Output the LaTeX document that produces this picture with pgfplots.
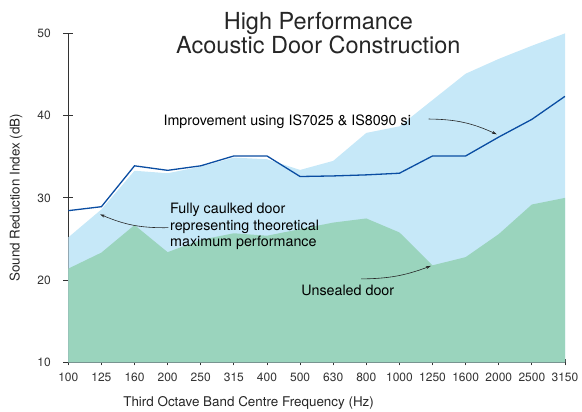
\documentclass[border=0pt]{standalone}
\usepackage{pgfplots}
\pgfplotsset{compat=1.18}
\usepackage{fontspec}
\setmainfont{TeX Gyre Heros}
\usetikzlibrary{arrows.meta}
\definecolor{caulk}{HTML}{C6E8F8}
\definecolor{unseal}{HTML}{9AD4BD}
\definecolor{impr}{HTML}{0A4DA2}
\definecolor{axc}{HTML}{333333}
\begin{document}
\begin{tikzpicture}
\begin{axis}[
  name=ax,
  at={(0,0)}, anchor=south west,
  scale only axis,
  width=496.7pt, height=329pt,
  xmin=0, xmax=15, ymin=10, ymax=50,
  axis lines*=left,
  axis line style={axc, line width=0.8pt},
  xtick={0,...,15},
  xticklabels={100,125,160,200,250,315,400,500,630,800,1000,1250,1600,2000,2500,3150},
  ytick={10,20,30,40,50},
  tick align=center,
  major tick length=10pt,
  xtick style={/pgfplots/major tick length=6pt},
  tick style={axc, line width=0.8pt},
  /pgf/number format/assume math mode=true,
  ticklabel style={font=\fontsize{12}{14}\selectfont, text=axc},
  yticklabel style={xshift=-9pt},
  xticklabel style={yshift=-2pt},
  xlabel={Third Octave Band Centre Frequency (Hz)},
  ylabel={Sound Reduction Index (dB)},
  label style={font=\fontsize{13.4}{16}\selectfont, text=black!85},
  xlabel style={at={(axis description cs:0.363,-0.123)}, anchor=center},
  ylabel style={at={(axis description cs:-0.105,0.5)}, anchor=center, rotate=0},
  clip mode=individual,
]
\addplot[fill=caulk, draw=none] coordinates {
(0,25.2) (1,28.6) (2,33.3) (3,33.0) (4,33.8) (5,34.9) (6,34.7) (7,33.4)
(8,34.5) (9,37.9) (10,38.7) (11,41.9) (12,45.1) (13,46.9) (14,48.5) (15,50.0)
} \closedcycle;
\addplot[fill=unseal, draw=none] coordinates {
(0,21.4) (1,23.35) (2,26.7) (3,23.4) (4,24.9) (5,25.7) (6,25.4) (7,26.2)
(8,27.0) (9,27.5) (10,25.8) (11,21.8) (12,22.8) (13,25.6) (14,29.2) (15,30.0)
} \closedcycle;
\addplot[impr, line width=1.3pt, mark=none] coordinates {
(0,28.45) (1,28.93) (2,33.9) (3,33.35) (4,33.9) (5,35.1) (6,35.1) (7,32.6)
(8,32.67) (9,32.8) (10,33.0) (11,35.1) (12,35.1) (13,37.4) (14,39.55) (15,42.35)
};
\node[anchor=base, align=center, font=\fontsize{23.5}{24}\selectfont, text=black!85]
  at (axis cs:7.55,47.57) {High Performance\\Acoustic Door Construction};
\node[anchor=base west, inner sep=0pt, font=\fontsize{14.3}{16.5}\selectfont]
  at (axis cs:2.87,38.86) {Improvement using IS7025 \& IS8090 si};
\node[anchor=base west, inner sep=0pt, align=left, font=\fontsize{14.3}{16.5}\selectfont]
  at (axis cs:3.07,24.07) {Fully caulked door\\representing theoretical\\maximum performance};
\node[anchor=base west, inner sep=0pt, font=\fontsize{14.3}{16.5}\selectfont]
  at (axis cs:7.03,18.08) {Unsealed door};
\draw[-{Stealth[length=5pt,width=3pt]}, line width=0.6pt, black!85]
  (axis cs:10.88,39.59) to[bend left=12] (axis cs:12.94,37.73);
\draw[-{Stealth[length=5pt,width=3pt]}, line width=0.6pt, black!85]
  (axis cs:3.02,26.38) to[bend left=12] (axis cs:0.96,28.0);
\draw[-{Stealth[length=5pt,width=3pt]}, line width=0.6pt, black!85]
  (axis cs:8.84,20.15) to[bend right=10] (axis cs:10.95,21.73);
\end{axis}
\pgfresetboundingbox
\path[use as bounding box] (ax.south west) ++(-68.3pt,-49.6pt) rectangle ++(582pt,412pt);
\end{tikzpicture}
\end{document}
